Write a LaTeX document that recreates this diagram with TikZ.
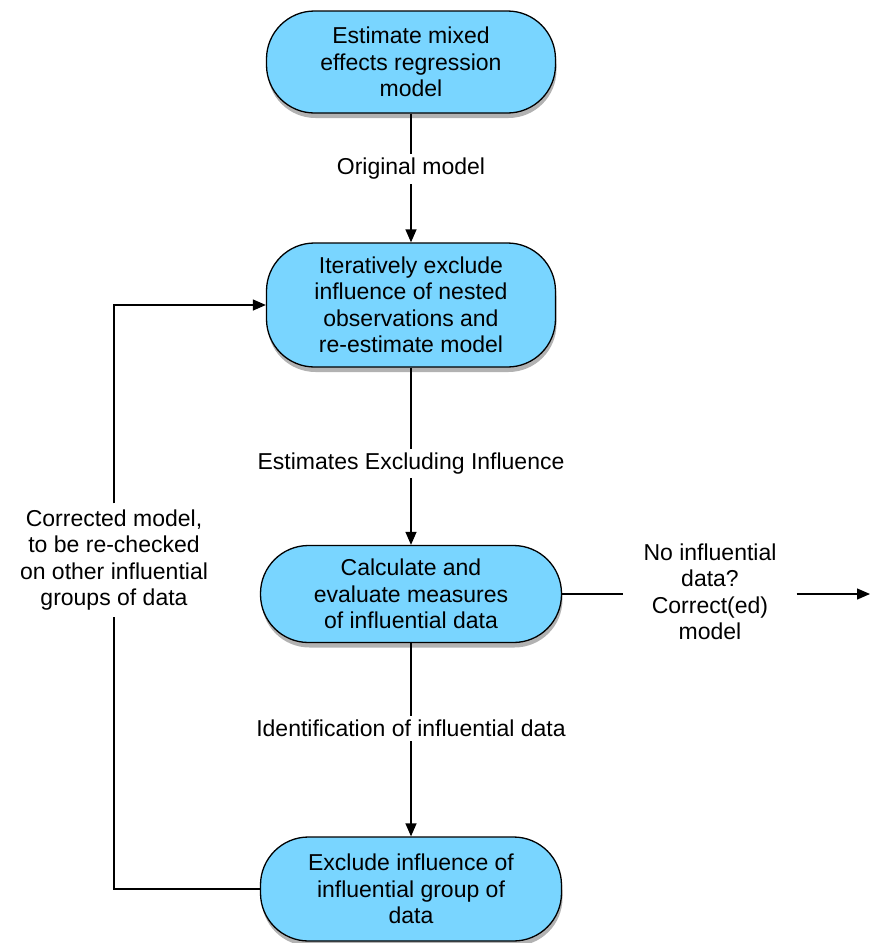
\documentclass[tikz,border=0pt]{standalone}
\usepackage{fontspec}
\setmainfont{Liberation Sans}
\usetikzlibrary{shadows,arrows.meta}
\definecolor{boxblue}{RGB}{121,213,255}
\tikzset{
  stepbox/.style={draw=black, line width=1.3pt, fill=boxblue, rounded corners=48pt,
    align=center, inner sep=0pt,
    drop shadow={shadow xshift=1pt, shadow yshift=-5pt, opacity=0.3, fill=black}},
  flowlabel/.style={fill=white, align=center, inner sep=4pt},
  flow/.style={line width=1.3pt, -{Triangle[length=13pt,width=11pt]}},
}
\begin{document}
\begin{tikzpicture}[x=1pt, y=-1pt, font=\fontsize{23}{26.5}\selectfont]
  \useasboundingbox (0,0) rectangle (870,943);

  % Schritte
  \node[stepbox, minimum width=289pt, minimum height=102pt] (est) at (411,62)
    {Estimate mixed\\effects regression\\model};
  \node[stepbox, minimum width=289pt, minimum height=124pt] (iter) at (411,305)
    {Iteratively exclude\\influence of nested\\observations and\\re-estimate model};
  \node[stepbox, minimum width=301pt, minimum height=97pt] (calc) at (411,594)
    {Calculate and\\evaluate measures\\of influential data};
  \node[stepbox, minimum width=301pt, minimum height=104pt] (excl) at (411,889)
    {Exclude influence of\\influential group of\\data};

  % Seitliche Texte
  \node[align=center, inner sep=6pt] (corr) at (114,560)
    {Corrected model,\\to be re-checked\\on other influential\\groups of data};
  \node[align=center, inner xsep=20pt] (noinf) at (710,592)
    {No influential\\data?\\Correct(ed)\\model};
  \coordinate (out) at (870,594);

  % Pfeile
  \draw[flow] (est) -- node[flowlabel, pos=0.43] {Original model} (iter);
  \draw[flow] (iter) -- node[flowlabel, pos=0.54] {Estimates Excluding Influence} (calc);
  \draw[flow] (calc) -- node[flowlabel, pos=0.44] {Identification of influential data} (excl);
  \draw[flow] (excl.west) -| (corr) |- (iter.west);
  \draw[line width=1.3pt] (calc.east) -- (calc.east -| noinf.west);
  \draw[flow] (calc.east -| noinf.east) -- (out);
\end{tikzpicture}
\end{document}
